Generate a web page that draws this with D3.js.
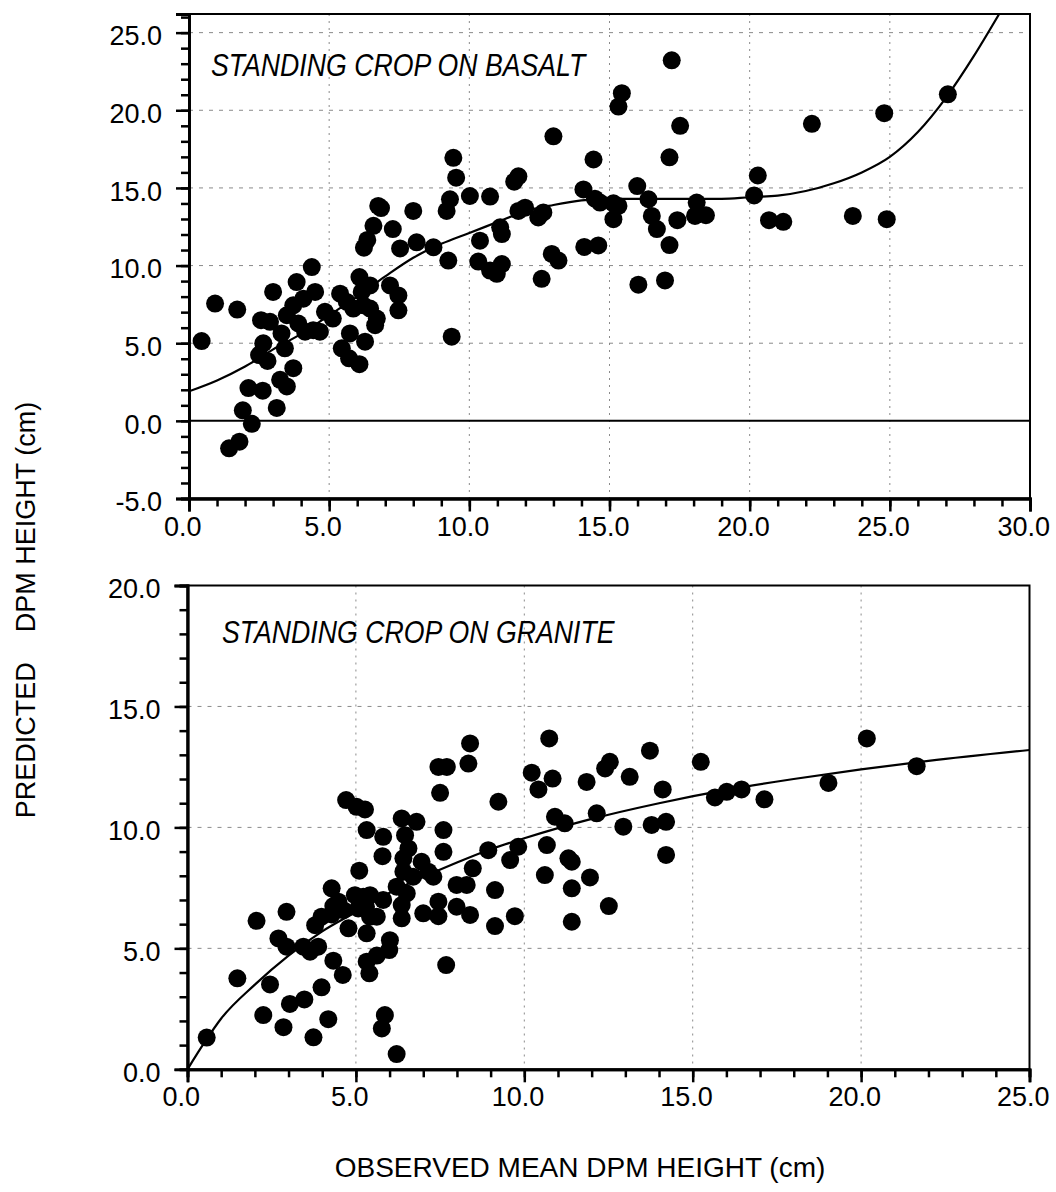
<!doctype html>
<html lang="en">
<head>
<meta charset="UTF-8">
<title>Predicted vs observed DPM height</title>
<script src="https://cdn.jsdelivr.net/npm/d3@7"></script>
<style>
  body { margin: 0; background: #fff; }
  svg { display: block; font-family: "Liberation Sans", Arial, sans-serif; }
</style>
</head>
<body>
<script>
// observed mean DPM height (x) vs predicted (y)
var basalt = [
  [0.45,5.14],[0.93,7.55],[1.72,7.17],[1.43,-1.77],[1.8,-1.34],[1.92,0.68],[2.24,-0.19],[2.12,2.11],
  [2.63,1.94],[3.13,0.83],[2.57,6.48],[2.65,4.99],[2.5,4.24],[2.8,3.86],[3.0,8.3],[2.89,6.38],
  [3.3,5.63],[3.42,4.67],[3.25,2.64],[3.49,2.22],[3.72,3.39],[3.49,6.8],[3.72,7.44],[3.84,8.94],
  [4.08,7.87],[3.9,6.27],[4.14,5.74],[4.38,9.9],[4.5,8.3],[4.43,5.84],[4.67,5.74],[4.85,7.02],
  [5.13,6.59],[5.39,8.19],[5.63,7.66],[5.45,4.67],[5.74,5.63],[5.71,4.03],[6.08,3.65],[6.28,5.1],
  [5.86,7.23],[6.08,9.26],[6.16,8.3],[6.22,7.44],[6.46,8.72],[6.46,7.23],[6.7,6.59],[6.64,6.16],
  [6.24,11.15],[6.36,11.65],[6.58,12.56],[6.75,13.84],[6.85,13.7],[7.27,12.35],[7.17,8.72],[7.47,8.08],
  [7.47,7.12],[7.53,11.1],[8.12,11.5],[8.0,13.52],[8.72,11.18],[9.25,10.32],[9.37,5.42],[9.19,13.52],
  [9.31,14.27],[9.53,15.66],[9.43,16.94],[10.02,14.48],[10.74,14.44],[10.38,11.6],[10.32,10.26],[10.74,9.68],
  [10.98,9.47],[11.16,10.1],[11.1,12.46],[11.16,12.03],[11.6,15.4],[11.75,15.75],[11.75,13.52],[11.99,13.73],
  [12.46,13.1],[12.64,13.42],[12.58,9.15],[12.94,10.75],[13.18,10.32],[13.0,18.32],[14.1,11.2],[14.6,11.3],
  [14.07,14.9],[14.43,16.83],[14.48,14.31],[14.66,14.06],[15.14,14.01],[15.32,13.84],[15.14,12.99],[15.44,21.1],
  [15.32,20.24],[15.99,15.12],[16.39,14.27],[16.51,13.2],[16.69,12.35],[16.03,8.77],[16.98,9.04],[17.14,11.32],
  [17.42,12.92],[17.14,16.97],[17.22,23.22],[17.52,19.0],[18.11,14.06],[18.05,13.2],[18.44,13.24],[20.29,15.8],
  [20.16,14.52],[20.69,12.92],[21.2,12.82],[22.22,19.13],[23.68,13.2],[24.8,19.81],[24.89,12.99],[27.07,21.03]
];
var granite = [
  [0.57,1.31],[1.48,3.76],[2.05,6.14],[2.25,2.24],[2.45,3.51],[2.85,1.74],[2.94,6.51],[2.7,5.41],
  [2.94,5.07],[3.04,2.7],[3.47,2.89],[3.44,5.07],[3.64,4.86],[3.88,5.07],[3.74,1.32],[3.98,3.39],
  [4.18,2.07],[3.79,5.96],[3.98,6.31],[4.28,7.48],[4.33,6.75],[4.48,6.93],[4.28,6.4],[4.63,6.58],
  [4.78,5.83],[4.33,4.49],[4.61,3.9],[5.1,8.21],[4.97,7.2],[5.22,7.13],[5.42,7.2],[5.07,6.65],
  [5.3,6.72],[5.42,6.31],[5.32,5.62],[5.32,4.45],[5.4,3.97],[5.62,4.7],[5.81,7.0],[5.62,6.31],
  [5.32,9.89],[4.71,11.13],[5.02,10.85],[5.27,10.74],[5.81,9.61],[5.79,8.81],[6.01,5.34],[5.99,4.93],
  [5.86,2.24],[5.77,1.69],[6.21,0.63],[6.36,10.37],[6.8,10.23],[6.46,9.68],[6.56,9.13],[6.41,8.72],
  [6.95,8.58],[6.41,8.17],[6.7,7.96],[7.15,8.17],[7.3,7.96],[6.21,7.55],[6.51,7.27],[6.36,6.79],
  [6.36,6.24],[7.0,6.45],[7.45,6.93],[7.45,6.33],[7.6,9.89],[7.6,8.99],[7.68,4.31],[7.99,6.72],
  [8.39,6.38],[7.99,7.62],[8.29,7.62],[8.47,8.31],[8.93,9.06],[9.13,7.41],[9.13,5.92],[9.23,11.06],
  [9.58,8.65],[9.72,6.33],[9.82,9.2],[10.67,9.27],[10.61,8.03],[10.91,10.44],[11.2,10.17],[11.31,8.72],
  [11.41,8.58],[11.41,7.48],[11.95,7.93],[11.41,6.1],[7.5,11.43],[7.45,12.5],[7.7,12.5],[8.39,13.47],
  [8.34,12.64],[10.74,13.68],[10.22,12.26],[10.42,11.57],[10.84,12.02],[11.85,11.88],[12.4,12.44],[12.54,12.71],
  [12.15,10.58],[13.73,13.17],[13.13,12.09],[14.11,11.57],[12.94,10.03],[13.78,10.1],[14.21,10.23],[15.24,12.71],
  [15.66,11.24],[16.01,11.47],[16.45,11.57],[17.13,11.16],[19.03,11.84],[20.17,13.68],[21.65,12.53],[14.21,8.86],
  [12.51,6.75]
];
// fitted curves
var basaltFit = [
  [0,1.9],[1,2.6],[2,3.5],[3,4.6],[4,5.6],[5,6.8],[6,8.0],[7,9.3],[8,10.5],[9,11.4],[10,12.1],
  [11,12.8],[12,13.5],[13,13.9],[14,14.2],[15,14.3],[16,14.3],[17,14.3],[18,14.3],[19,14.3],[20,14.4],
  [21,14.5],[22,14.8],[23,15.3],[24,16.0],[25,17.0],[26,18.6],[27,20.8],[28,23.5],[28.9,26.2]
];
var graniteFit = [
  [0,0],[0.5,1.1],[1,2.1],[2,3.5],[3,4.7],[4,5.7],[5,6.5],[6,7.3],[7,7.95],[8,8.55],[9,9.1],
  [10,9.55],[12,10.35],[14,11.0],[16,11.55],[18,12.0],[20,12.4],[22,12.75],[25,13.2]
];

var topXTicks = [0, 5, 10, 15, 20, 25, 30];
var topYTicks = [-5, 0, 5, 10, 15, 20, 25];
var botXTicks = [0, 5, 10, 15, 20, 25];
var botYTicks = [0, 5, 10, 15, 20];

var W = 1056, H = 1192, R = 9;

var svg = d3.select("body").append("svg").attr("width", W).attr("height", H);

var fmt = function(d) { return d.toFixed(1); };

function panel(opt) {
  var x = d3.scaleLinear().domain(opt.xd).range(opt.xr);
  var y = d3.scaleLinear().domain(opt.yd).range(opt.yr);
  var g = svg.append("g");
  var x0 = opt.xr[0], x1 = opt.xr[1], y0 = opt.yr[0], y1 = opt.yr[1];

  var clipId = "clip" + opt.id;
  svg.append("clipPath").attr("id", clipId).append("rect")
    .attr("x", x0).attr("y", y1).attr("width", x1 - x0).attr("height", y0 - y1);

  // dotted grid
  g.selectAll(".vg").data(opt.xt.filter(function(d) { return d > opt.xd[0] && d < opt.xd[1]; }))
    .enter().append("line")
    .attr("x1", x).attr("x2", x).attr("y1", y1).attr("y2", y0)
    .attr("stroke", "#8a8a8a").attr("stroke-width", 1).attr("stroke-dasharray", "2,5");
  g.selectAll(".hg").data(opt.yt.filter(function(d) { return d > opt.yd[0] && d < opt.yd[1] && d != 0; }))
    .enter().append("line")
    .attr("y1", y).attr("y2", y).attr("x1", x0).attr("x2", x1)
    .attr("stroke", "#8a8a8a").attr("stroke-width", 1).attr("stroke-dasharray", "4,6");

  if (opt.yd[0] < 0) {
    g.append("line").attr("x1", x0).attr("x2", x1).attr("y1", y(0)).attr("y2", y(0))
      .attr("stroke", "#000").attr("stroke-width", 2);
  }

  var line = d3.line().x(function(d) { return x(d[0]); }).y(function(d) { return y(d[1]); })
    .curve(d3.curveMonotoneX);
  g.append("path").datum(opt.fit).attr("d", line)
    .attr("fill", "none").attr("stroke", "#000").attr("stroke-width", 2.2)
    .attr("clip-path", "url(#" + clipId + ")");

  g.selectAll("circle").data(opt.pts).enter().append("circle")
    .attr("cx", function(d) { return x(d[0]); })
    .attr("cy", function(d) { return y(d[1]); })
    .attr("r", R).attr("fill", "#000");

  // frame
  g.append("rect").attr("x", x0).attr("y", y1).attr("width", x1 - x0).attr("height", y0 - y1)
    .attr("fill", "none").attr("stroke", "#000").attr("stroke-width", 2);

  // minor ticks
  g.append("g").attr("transform", "translate(0," + y0 + ")")
    .call(d3.axisBottom(x).tickValues(d3.range(opt.xd[0], opt.xd[1] + 0.5, 1)).tickSize(8).tickFormat(""));
  g.append("g").attr("transform", "translate(" + x0 + ",0)")
    .call(d3.axisLeft(y).tickValues(d3.range(Math.ceil(opt.yd[0]), opt.yd[1] + 0.01, 1)).tickSize(8).tickFormat(""));

  // major ticks + labels
  var xa = g.append("g").attr("transform", "translate(0," + y0 + ")")
    .call(d3.axisBottom(x).tickValues(opt.xt).tickSize(13).tickPadding(5).tickFormat(fmt));
  var ya = g.append("g").attr("transform", "translate(" + x0 + ",0)")
    .call(d3.axisLeft(y).tickValues(opt.yt).tickSize(13).tickPadding(14).tickFormat(fmt));

  [xa, ya].forEach(function(a) {
    a.selectAll("text").attr("font-size", 27).attr("fill", "#000")
      .attr("font-family", "'Liberation Sans', Arial, sans-serif");
  });
  xa.selectAll("text").attr("dx", "-0.25em");
  ya.selectAll("text").attr("dy", "0.45em");
  g.selectAll(".tick line").attr("stroke-width", 2.5);
  g.selectAll("path.domain").attr("stroke-width", 2.8);

  g.append("text").attr("transform", "translate(" + opt.tx + "," + opt.ty + ") scale(0.86,1)")
    .attr("font-size", 31).attr("font-style", "italic").text(opt.title);
}

panel({
  id: "top", xd: [0, 30], xr: [189, 1030], yd: [-5, 26.2], yr: [498.5, 14],
  xt: topXTicks, yt: topYTicks, pts: basalt, fit: basaltFit,
  title: "STANDING CROP ON BASALT", tx: 211, ty: 76
});
panel({
  id: "bot", xd: [0, 25], xr: [187.5, 1029.5], yd: [0, 20], yr: [1069.3, 585.5],
  xt: botXTicks, yt: botYTicks, pts: granite, fit: graniteFit,
  title: "STANDING CROP ON GRANITE", tx: 222, ty: 643
});

var yt = svg.append("text").attr("transform", "translate(35,610) rotate(-90)")
  .attr("text-anchor", "middle").attr("font-size", 27);
yt.append("tspan").text("PREDICTED");
yt.append("tspan").attr("dx", 30).text("DPM HEIGHT (cm)");

svg.append("text").attr("x", 580).attr("y", 1177).attr("text-anchor", "middle")
  .attr("font-size", 28).text("OBSERVED MEAN DPM HEIGHT (cm)");
</script>
</body>
</html>
